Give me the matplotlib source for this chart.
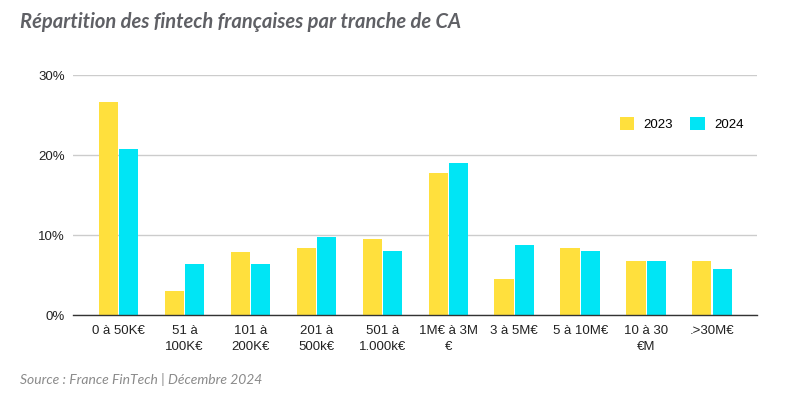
import matplotlib
matplotlib.use("Agg")
import matplotlib.pyplot as plt
import numpy as np

categories = ["0 à 50K€", "51 à\n100K€", "101 à\n200K€", "201 à\n500k€", "501 à\n1.000k€",
              "1M€ à 3M\n€", "3 à 5M€", "5 à 10M€", "10 à 30\n€M", ".>30M€"]
series_2023 = [26.6, 3.0, 7.9, 8.4, 9.5, 17.8, 4.5, 8.4, 6.8, 6.8]
series_2024 = [20.8, 6.4, 6.4, 9.8, 8.0, 19.0, 8.7, 8.0, 6.8, 5.7]
y_ticks = [0, 10, 20, 30]
y_labels = ["0%", "10%", "20%", "30%"]

YELLOW = "#FFE03D"
CYAN = "#00E5F5"

fig = plt.figure(figsize=(7.87, 3.96), dpi=100)
ax = fig.add_axes([73/787, 1-315/396, (757-73)/787, (315-75)/396])

x = np.arange(len(categories))
w = 0.29
gap = 0.02
ax.bar(x - w/2 - gap/2, series_2023, width=w, color=YELLOW, label="2023", zorder=3)
ax.bar(x + w/2 + gap/2, series_2024, width=w, color=CYAN, label="2024", zorder=3)

ax.set_xlim(-0.69, len(categories) - 1 + 0.68)
ax.set_ylim(0, 30)
ax.set_yticks(y_ticks)
ax.set_yticklabels(y_labels, fontsize=9.5, color="#222222", family="Liberation Sans")
ax.set_xticks(x)
ax.set_xticklabels(categories, fontsize=9.5, color="#222222", family="Liberation Sans",
                   linespacing=1.45)
ax.tick_params(axis="both", length=0)
ax.tick_params(axis="y", pad=6)
ax.tick_params(axis="x", pad=7)

ax.grid(axis="y", color="#cccccc", linewidth=1, zorder=0)
for s in ["top", "right", "left"]:
    ax.spines[s].set_visible(False)
ax.spines["bottom"].set_color("#333333")
ax.spines["bottom"].set_linewidth(1)
ax.spines["bottom"].set_zorder(4)

leg = ax.legend(loc="upper left", bbox_to_anchor=(535/684, 0.875), frameon=False, ncol=2,
                handlelength=1.1, handleheight=1.1, columnspacing=1.3,
                handletextpad=0.7, prop={"family": "Liberation Sans", "size": 9.5})

fig.text(20/787, 1-22/396, "Répartition des fintech françaises par tranche de CA",
         fontsize=14.5, fontweight="bold", fontstyle="italic", color="#5f6065",
         family="Lato", va="center", ha="left")
fig.text(20/787, 1-380/396, "Source : France FinTech | Décembre 2024",
         fontsize=10, fontstyle="italic", color="#8a8a8a", family="Lato",
         va="center", ha="left")

fig.savefig("out.png", dpi=100)
